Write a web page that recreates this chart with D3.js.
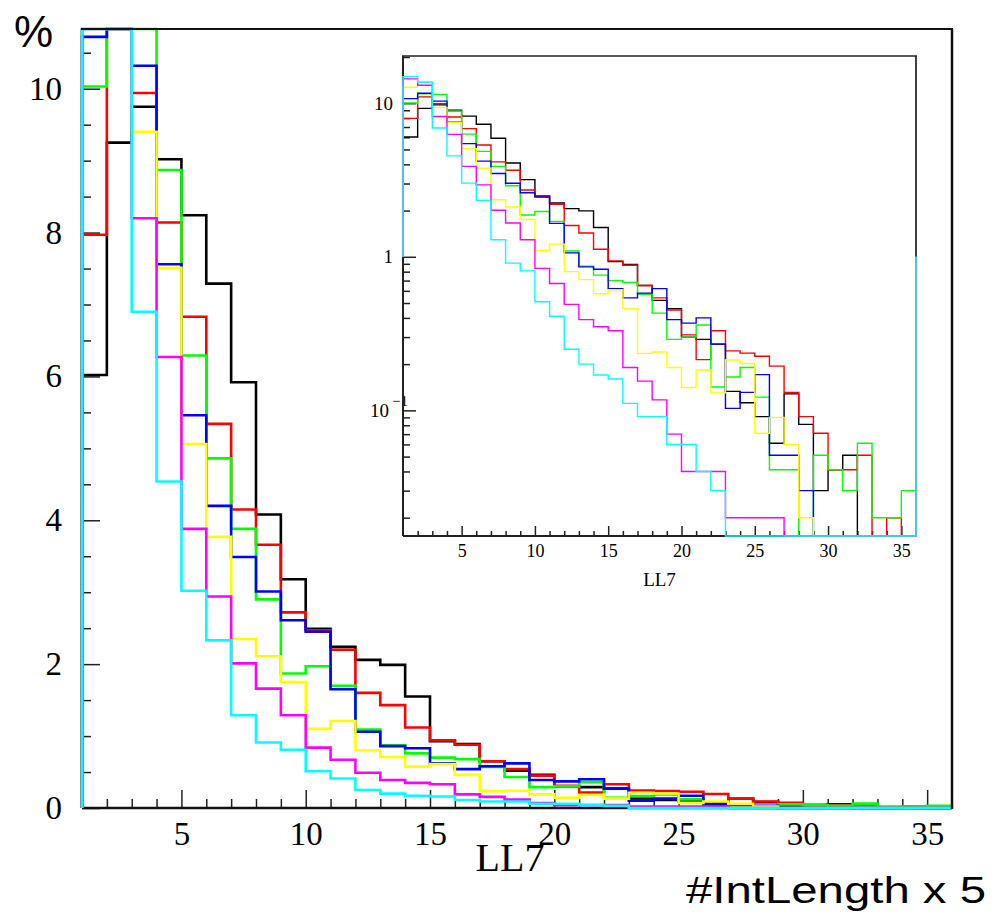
<!DOCTYPE html>
<html>
<head>
<meta charset="utf-8">
<script src="https://cdn.jsdelivr.net/npm/d3@7"></script>
<style>
  body { margin: 0; background: #fff; }
  svg { display: block; }
  .tick line { stroke: #222; stroke-width: 1.5; }
</style>
</head>
<body>
<div id="chart"></div>
<script>
/* data: % of events per LL7 bin (bins of width 1, left edge listed) */
var binLow = [1, 2, 3, 4, 5, 6, 7, 8, 9, 10, 11, 12, 13, 14, 15, 16, 17, 18,
              19, 20, 21, 22, 23, 24, 25, 26, 27, 28, 29, 30, 31, 32, 33, 34, 35];

var valBlack = [6.02, 9.25, 9.75, 9.02, 8.24, 7.29, 5.92, 4.08, 3.18, 2.49,
                2.24, 2.06, 1.99, 1.55, 0.93, 0.89, 0.65, 0.52, 0.46, 0.30,
                0.29, 0.27, 0.133, 0.112, 0.091, 0.061, 0.128, 0.081, 0.030, 0.041,
                0.051, 0, 0, 0, 0];
var valRed = [7.97, 11.0, 9.94, 8.14, 6.83, 5.34, 4.15, 3.66, 2.72, 2.47,
              2.20, 1.60, 1.43, 1.12, 0.94, 0.88, 0.65, 0.54, 0.45, 0.31,
              0.214, 0.33, 0.244, 0.236, 0.225, 0.194, 0.131, 0.091, 0.071, 0.041,
              0.041, 0.051, 0, 0.020, 0];
var valGreen = [10.03, 11.5, 11.4, 8.87, 6.29, 4.86, 3.88, 2.90, 1.87, 1.97,
                1.70, 1.09, 0.87, 0.76, 0.70, 0.68, 0.57, 0.43, 0.29, 0.30,
                0.36, 0.142, 0.165, 0.19, 0.122, 0.041, 0.041, 0, 0.051, 0.041,
                0.030, 0.061, 0.020, 0.020, 0.030];
var valBlue = [10.72, 11.6, 10.32, 7.56, 5.46, 4.20, 3.49, 3.01, 2.61, 2.45,
               1.65, 1.06, 0.86, 0.83, 0.62, 0.54, 0.58, 0.62, 0.39, 0.37,
               0.40, 0.27, 0.103, 0.131, 0.171, 0.051, 0.051, 0.030, 0, 0,
               0, 0, 0, 0, 0];
var valYellow = [12.7, 13.8, 9.40, 7.51, 5.06, 3.77, 2.35, 2.11, 1.75, 1.10,
                 1.21, 0.80, 0.71, 0.575, 0.61, 0.46, 0.235, 0.24, 0.19, 0.141,
                 0.183, 0.13, 0.213, 0.202, 0.071, 0.090, 0.060, 0.020, 0, 0,
                 0, 0, 0, 0, 0];
var valMagenta = [14.4, 13.1, 8.20, 6.27, 3.88, 2.94, 2.01, 1.66, 1.29, 0.84,
                  0.67, 0.49, 0.39, 0.35, 0.33, 0.19, 0.155, 0.117, 0.070, 0.040,
                  0.040, 0.040, 0.020, 0.020, 0.020, 0.020, 0, 0, 0, 0,
                  0, 0, 0, 0, 0];
var valCyan = [14.9, 13.7, 6.90, 4.54, 3.02, 2.33, 1.29, 0.91, 0.81, 0.51,
               0.41, 0.25, 0.20, 0.17, 0.16, 0.111, 0.091, 0.091, 0.060, 0.060,
               0.040, 0.030, 0, 0, 0, 0, 0, 0, 0, 0,
               0, 0, 0, 0, 0];

var seriesVals = [valBlack, valRed, valGreen, valBlue, valYellow, valMagenta, valCyan];
var seriesColors = ['#000000', '#ff0000', '#00ff00', '#0000ff', '#ffff00', '#ff00ff', '#00ffff'];

var xTicks = [5, 10, 15, 20, 25, 30, 35];
var yTicks = [0, 2, 4, 6, 8, 10];
var logTicks = [0.1, 1, 10];

/* setup */
var iWidth = 994,
    iHeight = 922,
    serif = '"Liberation Serif", "Times New Roman", serif',
    sans = '"Liberation Sans", Arial, sans-serif';

var main = {left: 82, right: 952, top: 29, bottom: 808},
    ins = {left: 403, right: 916, top: 56, bottom: 536};

var xMain = d3.scaleLinear().domain([1, 36]).range([main.left, main.right]);
var yMain = d3.scaleLinear().domain([0, 10.83]).range([main.bottom, main.top]).clamp(true);

var xIns = d3.scaleLinear().domain([1, 36]).range([ins.left, ins.right]);
var logMin = 0.0152;
var yIns = d3.scaleLog().domain([logMin, 20.3]).range([ins.bottom, ins.top]).clamp(true);

function histPoints(vals, base) {
    var pts = [{x: binLow[0], v: base}];
    vals.forEach(function (v, i) { pts.push({x: binLow[i], v: v}); });
    pts.push({x: binLow[binLow.length - 1] + 1, v: base});
    return pts;
}

function hline(g, x1, x2, y, w, c) {
    g.append('line').attr('x1', x1).attr('x2', x2).attr('y1', y).attr('y2', y)
        .attr('stroke', c).attr('stroke-width', w);
}
function vline(g, x, y1, y2, w, c) {
    g.append('line').attr('x1', x).attr('x2', x).attr('y1', y1).attr('y2', y2)
        .attr('stroke', c).attr('stroke-width', w);
}

var svg = d3.select('#chart').append('svg')
    .attr('width', iWidth)
    .attr('height', iHeight);

/* ---- main (linear) ---- */
var gMain = svg.append('g');

var minorX = d3.range(2, 36).filter(function (d) { return d % 5 !== 0; });
var minorY = d3.range(0.5, 10.83, 0.5).filter(function (d) { return d % 2 !== 0; });

gMain.append('g')
    .attr('transform', 'translate(0,' + main.bottom + ')')
    .call(d3.axisBottom(xMain).tickValues(minorX).tickSize(-9).tickFormat(''))
    .call(function (g) { g.select('.domain').remove(); });
gMain.append('g')
    .attr('transform', 'translate(0,' + main.bottom + ')')
    .call(d3.axisBottom(xMain).tickValues(xTicks).tickSize(-18).tickPadding(14).tickFormat(d3.format('d')))
    .call(function (g) { g.select('.domain').remove(); })
    .attr('font-size', 33).attr('font-family', serif);

gMain.append('g')
    .attr('transform', 'translate(' + main.left + ',0)')
    .call(d3.axisLeft(yMain).tickValues(minorY).tickSize(-9).tickFormat(''))
    .call(function (g) { g.select('.domain').remove(); });
gMain.append('g')
    .attr('transform', 'translate(' + main.left + ',0)')
    .call(d3.axisLeft(yMain).tickValues(yTicks).tickSize(-18).tickPadding(20).tickFormat(d3.format('d')))
    .call(function (g) { g.select('.domain').remove(); })
    .attr('font-size', 33).attr('font-family', serif);

vline(gMain, main.left, main.top, main.bottom, 2.5, '#111');
hline(gMain, main.left, main.right, main.bottom, 2.5, '#111');

var lineMain = d3.line()
    .curve(d3.curveStepAfter)
    .x(function (d) { return xMain(d.x); })
    .y(function (d) { return yMain(d.v); });

gMain.selectAll('.histMain')
    .data(seriesVals)
  .enter().append('path')
    .attr('class', 'histMain')
    .attr('fill', 'none')
    .attr('stroke', function (d, i) { return seriesColors[i]; })
    .attr('stroke-width', 2.6)
    .attr('d', function (d) { return lineMain(histPoints(d, 0)); });

hline(gMain, main.left - 1, main.right + 1, main.top, 2.2, '#111');
vline(gMain, main.right, main.top, main.bottom + 1, 2.5, '#111');

gMain.append('text')
    .attr('x', 510).attr('y', 871)
    .attr('text-anchor', 'middle')
    .attr('font-family', serif).attr('font-size', 40)
    .text('LL7');

/* ---- inset (log) ---- */
var gIns = svg.append('g');

gIns.append('rect')
    .attr('x', ins.left).attr('y', ins.top)
    .attr('width', ins.right - ins.left).attr('height', ins.bottom - ins.top)
    .attr('fill', '#fff');

vline(gIns, ins.right, ins.top, ins.bottom, 1.6, '#111');

var minorLog = [];
[0.01, 0.1, 1, 10].forEach(function (dec) {
    d3.range(2, 10).forEach(function (k) {
        var v = k * dec;
        if (v > logMin && v < 20.3) minorLog.push(v);
    });
});

gIns.append('g')
    .attr('transform', 'translate(0,' + ins.bottom + ')')
    .call(d3.axisBottom(xIns).tickValues(minorX).tickSize(-5).tickFormat(''))
    .call(function (g) { g.select('.domain').remove(); });
gIns.append('g')
    .attr('transform', 'translate(0,' + ins.bottom + ')')
    .call(d3.axisBottom(xIns).tickValues(xTicks).tickSize(-10).tickPadding(8).tickFormat(d3.format('d')))
    .call(function (g) { g.select('.domain').remove(); })
    .attr('font-size', 18).attr('font-family', serif);

gIns.append('g')
    .attr('transform', 'translate(' + ins.left + ',0)')
    .call(d3.axisLeft(yIns).tickValues(minorLog).tickSize(-7).tickFormat(''))
    .call(function (g) { g.select('.domain').remove(); });
var gLogAxis = gIns.append('g')
    .attr('transform', 'translate(' + ins.left + ',0)')
    .call(d3.axisLeft(yIns).tickValues(logTicks).tickSize(-13).tickPadding(10)
        .tickFormat(function (d) { return d >= 1 ? String(d) : '10'; }))
    .call(function (g) { g.select('.domain').remove(); })
    .attr('font-size', 19).attr('font-family', serif);

gLogAxis.selectAll('.tick text')
    .filter(function (d) { return d < 1; })
    .attr('x', 5)
    .append('tspan')
    .attr('dy', '-0.7em')
    .attr('dx', '3')
    .attr('font-size', 15)
    .text('\u22121');

vline(gIns, ins.left, ins.top, ins.bottom, 2, '#222');
hline(gIns, ins.left, ins.right, ins.bottom, 2, '#222');

var lineIns = d3.line()
    .curve(d3.curveStepAfter)
    .x(function (d) { return xIns(d.x); })
    .y(function (d) { return yIns(Math.max(d.v, logMin)); });

gIns.selectAll('.histIns')
    .data(seriesVals)
  .enter().append('path')
    .attr('class', 'histIns')
    .attr('fill', 'none')
    .attr('stroke', function (d, i) { return seriesColors[i]; })
    .attr('stroke-width', 1.4)
    .attr('d', function (d) { return lineIns(histPoints(d, 1)); });

hline(gIns, ins.left - 1, ins.right + 1, ins.top, 1.6, '#222');

gIns.append('text')
    .attr('x', (ins.left + ins.right) / 2).attr('y', 586)
    .attr('text-anchor', 'middle')
    .attr('font-family', serif).attr('font-size', 19)
    .text('LL7');

/* annotations */
svg.append('text')
    .attr('x', 14).attr('y', 47)
    .attr('font-family', sans).attr('font-size', 44)
    .text('%');

svg.append('text')
    .attr('x', 686).attr('y', 903)
    .attr('font-family', sans).attr('font-size', 37)
    .attr('textLength', 300).attr('lengthAdjust', 'spacingAndGlyphs')
    .text('#IntLength x 5');
</script>
</body>
</html>
